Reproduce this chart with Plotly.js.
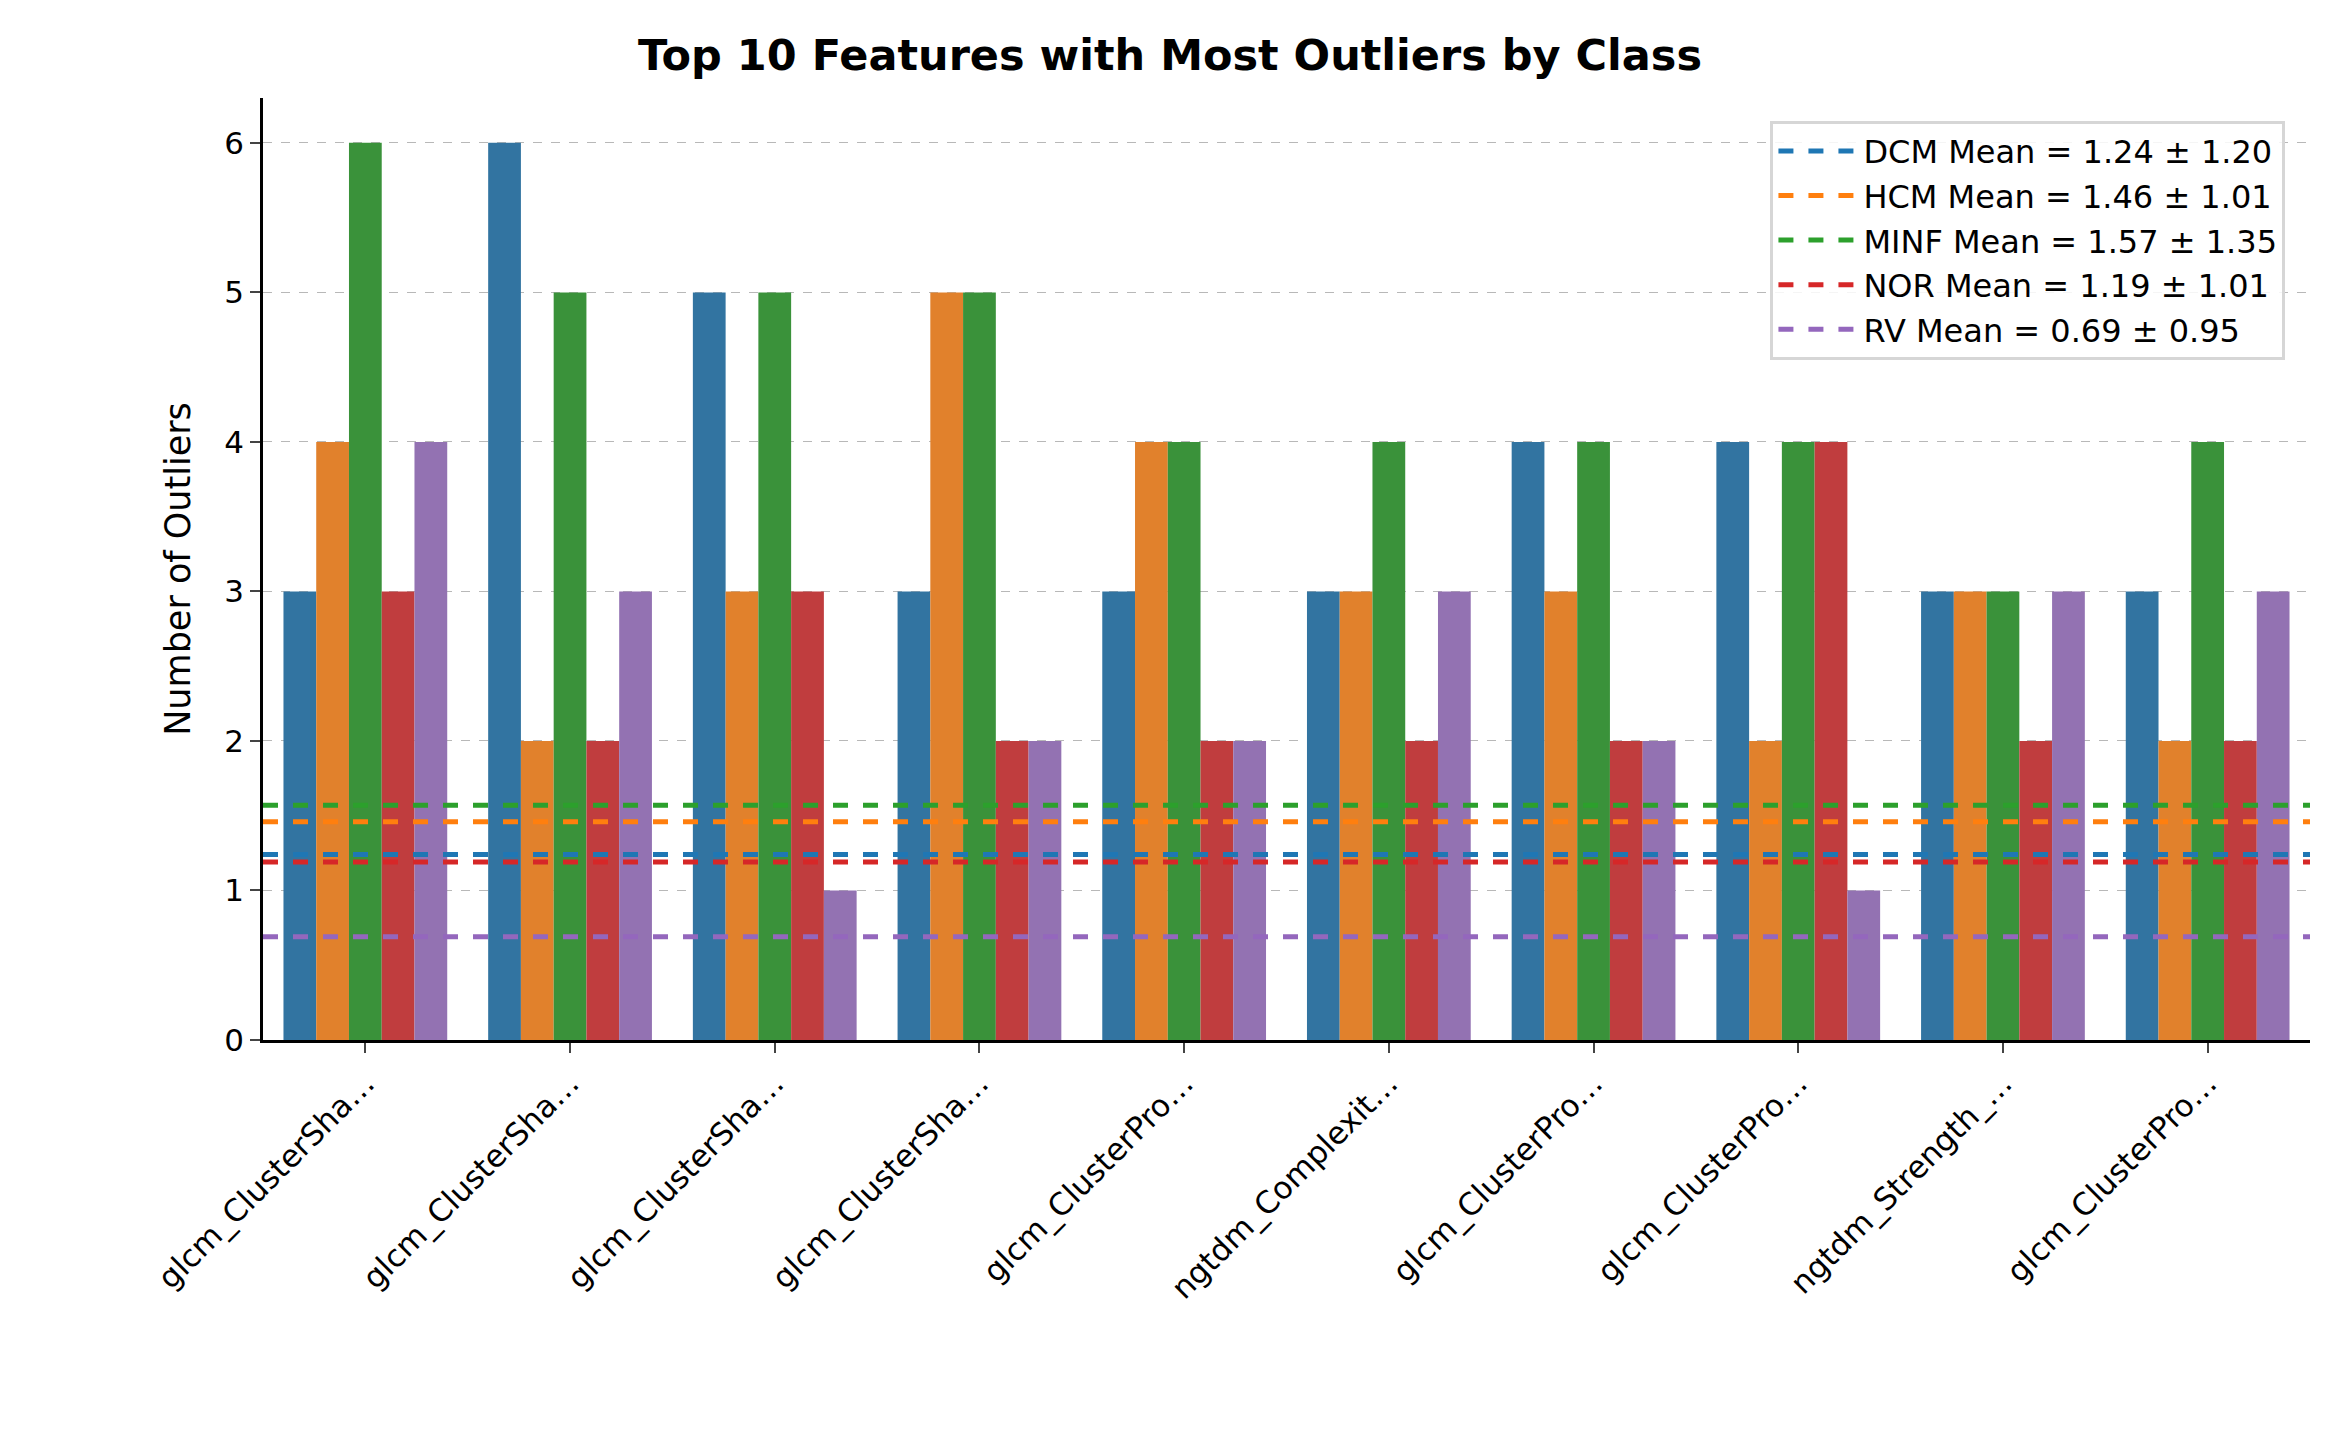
<!DOCTYPE html>
<html>
<head>
<meta charset="utf-8">
<script src="https://cdn.plot.ly/plotly-3.0.1.min.js"></script>
<style>
  html, body { margin: 0; padding: 0; background: #ffffff; }
  #plot { width: 2340px; height: 1449px; }
</style>
</head>
<body>
<div id="plot"></div>
<script>
const features = [
  "glcm_ClusterSha…", "glcm_ClusterSha…", "glcm_ClusterSha…", "glcm_ClusterSha…",
  "glcm_ClusterPro…", "ngtdm_Complexit…", "glcm_ClusterPro…", "glcm_ClusterPro…",
  "ngtdm_Strength_…", "glcm_ClusterPro…",
];
const classes = ["DCM", "HCM", "MINF", "NOR", "RV"];
const dcm  = [3, 6, 5, 3, 3, 3, 4, 4, 3, 3];
const hcm  = [4, 2, 3, 5, 4, 3, 3, 2, 3, 2];
const minf = [6, 5, 5, 5, 4, 4, 4, 4, 3, 4];
const nor  = [3, 2, 3, 2, 2, 2, 2, 4, 2, 2];
const rv   = [4, 3, 1, 2, 2, 3, 2, 1, 3, 3];
const means = [1.24, 1.46, 1.57, 1.19, 0.69];
const stds  = [1.20, 1.01, 1.35, 1.01, 0.95];

const barColors  = ["#3274a1", "#e1812c", "#3a923a", "#c03d3e", "#9372b2"];
const lineColors = ["#1f77b4", "#ff7f0e", "#2ca02c", "#d62728", "#9467bd"];
const series = [dcm, hcm, minf, nor, rv];
const idx = features.map((_, i) => i);
const barW = 0.16;

const traces = [];
series.forEach((vals, k) => {
  traces.push({
    type: "bar",
    x: idx.map((i) => i + (k - 2) * barW),
    y: vals,
    width: barW,
    marker: { color: barColors[k], line: { width: 0 } },
    showlegend: false,
    hoverinfo: "y",
  });
});
classes.forEach((c, k) => {
  traces.push({
    type: "scatter",
    mode: "lines",
    x: [-0.5, features.length - 0.5],
    y: [means[k], means[k]],
    line: { color: lineColors[k], width: 5, dash: "dash" },
    name: `${c} Mean = ${means[k].toFixed(2)} ± ${stds[k].toFixed(2)}`,
  });
});

const layout = {
  width: 2340,
  height: 1449,
  paper_bgcolor: "#ffffff",
  plot_bgcolor: "#ffffff",
  font: { family: "DejaVu Sans", color: "#000000", size: 31 },
  title: {
    text: "<b>Top 10 Features with Most Outliers by Class</b>",
    font: { size: 43 },
    x: 0.5, xanchor: "center", y: 0.962, yanchor: "middle",
  },
  margin: { l: 263, r: 30, t: 98, b: 409 },
  barmode: "overlay",
  xaxis: {
    range: [-0.5, features.length - 0.5],
    tickvals: idx,
    ticktext: features,
    tickangle: -45,
    ticks: "outside", ticklen: 10, tickwidth: 2,
    showline: true, linecolor: "#000000", linewidth: 2.5,
    showgrid: false, zeroline: false,
    tickfont: { size: 31 },
  },
  yaxis: {
    range: [0, 6.3],
    tickvals: [0, 1, 2, 3, 4, 5, 6],
    ticks: "outside", ticklen: 10, tickwidth: 2,
    showline: true, linecolor: "#000000", linewidth: 2.5,
    showgrid: true, gridcolor: "#b8b8b8", griddash: "dash", gridwidth: 1.2,
    zeroline: false,
    tickfont: { size: 31 },
    title: { text: "Number of Outliers", font: { size: 35 }, standoff: 24 },
  },
  showlegend: true,
  legend: {
    x: 0.988, xanchor: "right", y: 0.976, yanchor: "top",
    bgcolor: "rgba(255,255,255,0.85)",
    bordercolor: "#d6d6d6", borderwidth: 3,
    font: { size: 32 },
    itemwidth: 80,
    tracegroupgap: 4,
  },
};

Plotly.newPlot("plot", traces, layout, { displayModeBar: false });
</script>
</body>
</html>
